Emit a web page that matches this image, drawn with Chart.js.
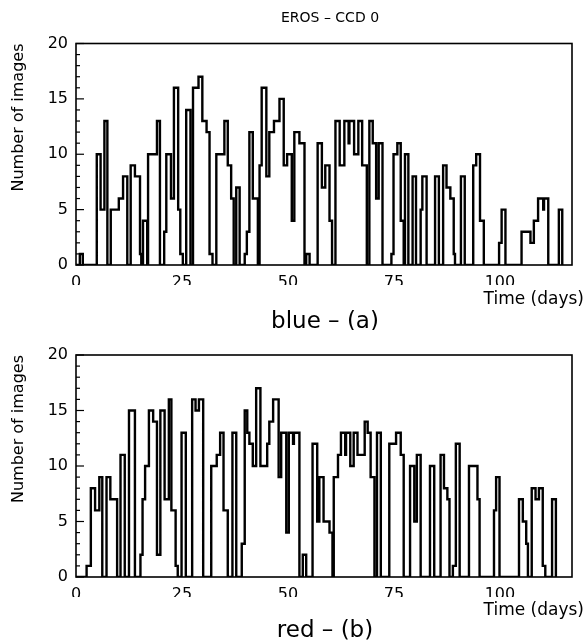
<!DOCTYPE html>
<html>
<head>
<meta charset="utf-8">
<script src="https://cdn.jsdelivr.net/npm/chart.js@4.4.1/dist/chart.umd.min.js"></script>
<style>
  body { margin:0; background:#fff; }
  #wrap { position:relative; width:588px; height:640px; }
  canvas { position:absolute; left:0; }
  #cBlue { top:0; }
  #cRed { top:330px; }
</style>
</head>
<body>
<div id="wrap">
  <canvas id="cBlue" width="588" height="330"></canvas>
  <canvas id="cRed" width="588" height="310"></canvas>
</div>
<script>
// histogram step edges (days) and number of images from that edge to the next one
const blueTime = [0, 0.9, 1.6, 4.9, 5.8, 6.7, 7.4, 8.2, 10.1, 11.1, 12.1, 12.9, 13.9, 15.1, 15.4, 15.8, 16.8, 17.0, 19.1, 19.8,
  20.8, 21.3, 22.4, 23.1, 24.1, 24.6, 25.2, 26.0, 27.0, 27.6, 28.9, 29.8, 30.8, 31.5, 32.2, 33.1, 35.0, 35.8, 36.6, 37.2,
  37.8, 38.6, 39.8, 40.3, 40.9, 41.7, 42.9, 43.3, 43.8, 44.9, 45.6, 46.7, 48.0, 49.0, 49.8, 50.9, 51.5, 52.7, 53.9, 54.3,
  55.1, 57.0, 58.0, 58.8, 59.8, 60.4, 61.2, 62.2, 63.3, 64.3, 64.5, 65.6, 66.6, 67.5, 68.6, 69.2, 70.0, 70.8, 71.4, 72.3,
  74.4, 74.9, 75.8, 76.6, 77.3, 77.6, 78.4, 79.4, 80.2, 81.3, 81.7, 82.7, 84.7, 85.6, 86.6, 87.4, 88.3, 89.1, 89.4, 90.8,
  91.7, 93.7, 94.4, 95.3, 96.2, 99.8, 100.4, 101.3, 105.1, 107.2, 108.0, 109.0, 110.2, 110.4, 111.4, 113.9, 114.7];
const blueCount = [0, 1, 0, 10, 5, 13, 0, 5, 6, 8, 0, 9, 8, 1, 0, 4, 0, 10, 13, 0,
  3, 10, 6, 16, 5, 1, 0, 14, 0, 16, 17, 13, 12, 1, 0, 10, 13, 9, 6, 0,
  7, 0, 1, 3, 12, 6, 0, 9, 16, 8, 12, 13, 15, 9, 10, 4, 12, 11, 0, 1,
  0, 11, 7, 9, 4, 0, 13, 9, 13, 11, 13, 10, 13, 9, 0, 13, 11, 6, 11, 0,
  1, 10, 11, 4, 0, 10, 0, 8, 0, 5, 8, 0, 8, 0, 9, 7, 6, 1, 0, 8,
  0, 9, 10, 4, 0, 2, 5, 0, 3, 2, 4, 6, 5, 6, 0, 5, 0];

const redTime = [0, 2.5, 3.5, 4.5, 5.5, 6.2, 7.2, 8.1, 9.7, 10.5, 11.5, 12.5, 13.9, 15.2, 15.7, 16.3, 17.2, 18.2, 19.1, 19.9,
  20.9, 21.9, 22.5, 23.5, 24.0, 24.9, 25.9, 27.4, 28.2, 29.0, 30.0, 31.9, 33.2, 34.0, 34.8, 35.8, 36.9, 37.8, 39.1, 39.8,
  40.4, 40.9, 41.7, 42.5, 43.5, 45.1, 45.6, 46.5, 47.8, 48.4, 49.6, 50.2, 51.2, 51.4, 52.7, 53.5, 54.3, 55.8, 56.9, 57.4,
  58.4, 59.8, 60.5, 60.8, 61.8, 62.5, 63.5, 63.7, 64.7, 65.5, 66.4, 68.1, 68.8, 69.5, 70.4, 71.0, 71.9, 73.9, 75.5, 76.6,
  77.3, 78.8, 79.8, 80.4, 81.3, 83.5, 84.5, 86.0, 86.8, 87.6, 88.1, 88.9, 89.6, 90.5, 92.7, 94.7, 95.2, 98.6, 99.1, 99.9,
  104.5, 105.4, 106.2, 106.6, 107.5, 108.4, 109.2, 110.1, 110.7, 112.3, 113.2];
const redCount = [0, 1, 8, 6, 9, 0, 9, 7, 0, 11, 0, 15, 0, 2, 7, 10, 15, 14, 2, 15,
  7, 16, 6, 1, 0, 13, 0, 16, 15, 16, 0, 10, 11, 13, 6, 0, 13, 0, 3, 15,
  13, 12, 10, 17, 10, 12, 14, 16, 9, 13, 4, 13, 12, 13, 0, 2, 0, 12, 5, 9,
  5, 4, 0, 9, 11, 13, 11, 13, 10, 13, 11, 14, 13, 9, 0, 13, 0, 12, 13, 11,
  0, 10, 5, 11, 0, 10, 0, 11, 8, 7, 0, 1, 12, 0, 10, 7, 0, 6, 9, 0,
  7, 5, 3, 0, 8, 7, 8, 1, 0, 7, 0];

const xTicks = [0, 25, 50, 75, 100];
const yTicks = [0, 5, 10, 15, 20];

const FONT = "'DejaVu Sans', sans-serif";

// frame, inner y tick marks and the free texts of each panel
const panelPlugin = {
  id: "panel",
  afterDraw(chart, args, o) {
    const { ctx, chartArea: a, scales: { y } } = chart;
    ctx.save();
    ctx.strokeStyle = "#000";
    ctx.lineWidth = 1.6;
    ctx.strokeRect(a.left, a.top, a.right - a.left, a.bottom - a.top);
    ctx.lineWidth = 1.2;
    for (let v = 0; v <= 20; v++) {
      const py = y.getPixelForValue(v);
      const len = v % 5 === 0 ? 8 : 4;
      ctx.beginPath(); ctx.moveTo(a.left, py); ctx.lineTo(a.left + len, py); ctx.stroke();
    }
    ctx.fillStyle = "#000";
    ctx.textBaseline = "middle";
    if (o.title) {
      ctx.font = `14px ${FONT}`;
      ctx.textAlign = "center";
      ctx.fillText(o.title, 330, 18);
    }
    ctx.font = `17px ${FONT}`;
    ctx.textAlign = "right";
    ctx.fillText("Time (days)", 584, o.timeY);
    ctx.font = `23px ${FONT}`;
    ctx.textAlign = "center";
    ctx.fillText(o.label, 325, o.labelY);
    ctx.restore();
  }
};

function makePanel(canvas, times, counts, pad, texts) {
  return new Chart(canvas, {
    type: "line",
    data: {
      datasets: [{
        data: times.map((t, i) => ({ x: t, y: counts[i] })),
        stepped: "before",
        borderColor: "#000",
        borderWidth: 2.4,
        pointRadius: 0,
        fill: false,
      }]
    },
    options: {
      responsive: false, animation: false, parsing: false,
      layout: { padding: { left: 0, right: 16, top: pad.top, bottom: pad.bottom } },
      scales: {
        x: {
          type: "linear", min: 0, max: 117,
          afterFit: s => { s.height = 20; },
          afterBuildTicks: s => { s.ticks = xTicks.map(v => ({ value: v })); },
          ticks: { includeBounds: false, autoSkip: false, padding: 8, color: "#000", font: { family: FONT, size: 16 } },
          grid: { display: false, drawTicks: false },
          border: { display: false },
        },
        y: {
          min: 0, max: 20,
          afterFit: s => { s.width = 76; },
          afterBuildTicks: s => { s.ticks = yTicks.map(v => ({ value: v })); },
          ticks: { padding: 8, color: "#000", font: { family: FONT, size: 16 } },
          grid: { display: false, drawTicks: false },
          border: { display: false },
          title: { display: true, text: "Number of images", align: "end", color: "#000",
            font: { family: FONT, size: 16 }, padding: { top: 9, bottom: 0 } },
        }
      },
      plugins: { legend: { display: false }, tooltip: { enabled: false }, panel: texts }
    },
    plugins: [panelPlugin]
  });
}

window.addEventListener("DOMContentLoaded", () => {
  makePanel(document.getElementById("cBlue"), blueTime, blueCount, { top: 43.5, bottom: 45 },
    { title: "EROS – CCD 0", label: "blue – (a)", labelY: 322, timeY: 300 });
  makePanel(document.getElementById("cRed"), redTime, redCount, { top: 25, bottom: 43 },
    { label: "red – (b)", labelY: 301, timeY: 281 });
});
</script>
</body>
</html>
